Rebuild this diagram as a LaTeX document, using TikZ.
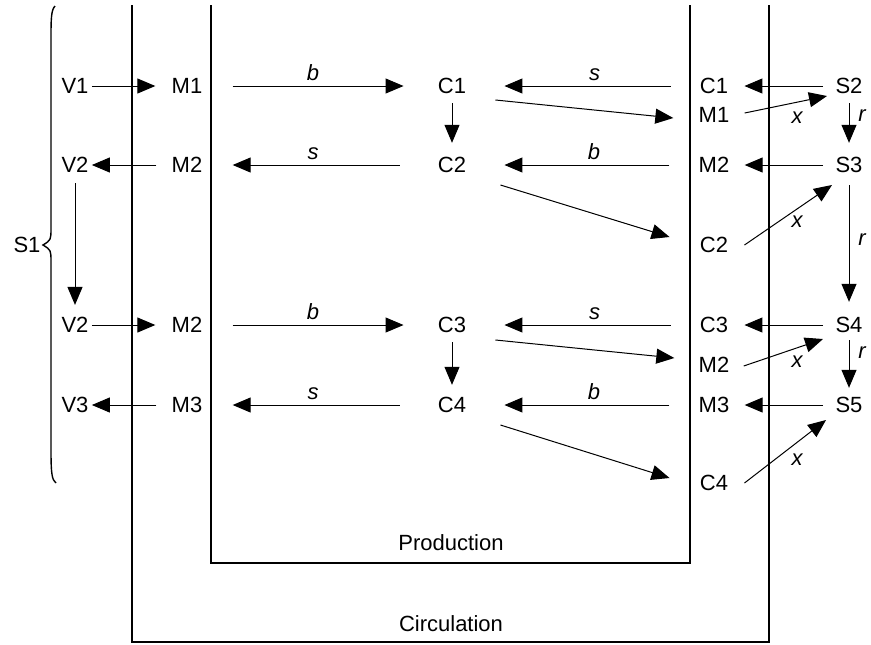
\documentclass[tikz,border=0pt]{standalone}
\usepackage{fontspec}
\setmainfont{Liberation Sans}
\usetikzlibrary{arrows.meta}

\begin{document}
\begin{tikzpicture}[x=0.5pt,y=-0.5pt,font=\fontsize{11}{13}\selectfont,
    every node/.style={inner sep=0pt},
    arr/.style={-{Triangle[length=9pt,width=7.5pt]},line width=0.5pt},
    lbl/.style={font=\fontsize{11}{13}\selectfont\itshape}]
    \useasboundingbox (0,0) rectangle (871,644);
    % the two boxes
    \draw[line width=1pt] (132,5) -- (132,642) -- (769,642) -- (769,5);
    \draw[line width=1pt] (211,5) -- (211,563) -- (690,563) -- (690,5);
    \node (prod) at (451,543) {Production};
    \node (circ) at (451,624) {Circulation};
    % left column
    \node (s1) at (27,245) {S1};
    \draw[line width=0.7pt] (55,6) .. controls (51,10) and (51,20) .. (51,40) -- (51,228)
        .. controls (51,240) .. (43,245) .. controls (51,250) .. (51,262) -- (51,450)
        .. controls (51,474) and (52,480) .. (56,483);
    \node (v1) at (75,86) {V1};
    \node (v2) at (75,165) {V2};
    \node (v2b) at (75,325) {V2};
    \node (v3) at (75,405) {V3};
    \node (ma1) at (187,86) {M1};
    \node (ma2) at (187,165) {M2};
    \node (ma3) at (187,325) {M2};
    \node (ma4) at (187,405) {M3};
    % production
    \node (c1) at (452,86) {C1};
    \node (c2) at (452,165) {C2};
    \node (c3) at (452,325) {C3};
    \node (c4) at (452,405) {C4};
    % right column
    \node (rc1) at (714,86) {C1};
    \node (rm1) at (714,115) {M1};
    \node (rm2) at (714,165) {M2};
    \node (rc2) at (714,245) {C2};
    \node (rc3) at (714,325) {C3};
    \node (rm3) at (714,365) {M2};
    \node (rm4) at (714,405) {M3};
    \node (rc4) at (714,483) {C4};
    \node (s2) at (849,86) {S2};
    \node (s3) at (849,165) {S3};
    \node (s4) at (849,325) {S4};
    \node (s5) at (849,405) {S5};
    % circulation arrows on the left
    \draw[arr,shorten <=1.5pt,shorten >=8pt] (v1) -- (ma1);
    \draw[arr,shorten <=7.5pt,shorten >=1.5pt] (ma2) -- (v2);
    \draw[arr,shorten <=5pt,shorten >=6pt] (v2) -- (v2b);
    \draw[arr,shorten <=1.5pt,shorten >=8pt] (v2b) -- (ma3);
    \draw[arr,shorten <=7.5pt,shorten >=1.5pt] (ma4) -- (v3);
    % production arrows
    \draw[arr,shorten <=15pt,shorten >=17pt] (ma1) -- node[lbl,pos=.47,above=2.5pt] {b} (c1);
    \draw[arr,shorten <=19pt,shorten >=15pt] (c2) -- node[lbl,pos=.53,above=2.5pt] {s} (ma2);
    \draw[arr,shorten <=15pt,shorten >=17pt] (ma3) -- node[lbl,pos=.47,above=2.5pt] {b} (c3);
    \draw[arr,shorten <=19pt,shorten >=15pt] (c4) -- node[lbl,pos=.53,above=2.5pt] {s} (ma4);
    \draw[arr,shorten <=4.5pt,shorten >=7pt] (c1) -- (c2);
    \draw[arr,shorten <=4.5pt,shorten >=6pt] (c3) -- (c4);
    \draw[arr,shorten <=14.5pt,shorten >=19pt] (rc1) -- node[lbl,pos=.45,above=2.5pt] {s} (c1);
    \draw[arr,shorten <=14.5pt,shorten >=19pt] (rm2) -- node[lbl,pos=.45,above=2.5pt] {b} (c2);
    \draw[arr,shorten <=14.5pt,shorten >=19pt] (rc3) -- node[lbl,pos=.45,above=2.5pt] {s} (c3);
    \draw[arr,shorten <=14.5pt,shorten >=19pt] (rm4) -- node[lbl,pos=.45,above=2.5pt] {b} (c4);
    \draw[arr] ([shift={(29,14)}]c1.east) -- ([shift={(-25,3)}]rm1.west);
    \draw[arr] ([shift={(34,20)}]c2.east) -- ([shift={(-30,-8)}]rc2.west);
    \draw[arr] ([shift={(29,15)}]c3.east) -- ([shift={(-24,-7)}]rm3.west);
    \draw[arr] ([shift={(34,20)}]c4.east) -- ([shift={(-30,-5)}]rc4.west);
    % circulation arrows on the right
    \draw[arr,shorten <=6pt,shorten >=8pt] (s2) -- (rc1);
    \draw[arr,shorten <=6pt,shorten >=7.5pt] (s3) -- (rm2);
    \draw[arr,shorten <=6pt,shorten >=8pt] (s4) -- (rc3);
    \draw[arr,shorten <=6pt,shorten >=7.5pt] (s5) -- (rm4);
    \draw[arr] ([shift={(15,-2)}]rm1.east) -- ([shift={(-22,10)}]s2.center);
    \draw[arr] ([shift={(16,0)}]rc2.east) -- ([shift={(-17,20)}]s3.center);
    \draw[arr] ([shift={(14,1)}]rm3.east) -- ([shift={(-26,14)}]s4.center);
    \draw[arr] ([shift={(16,0)}]rc4.east) -- ([shift={(-23,15)}]s5.center);
    \node[lbl] (x1) at (797,118) {x};
    \node[lbl] (x2) at (797,222) {x};
    \node[lbl] (x3) at (797,362) {x};
    \node[lbl] (x4) at (797,460) {x};
    \draw[arr,shorten <=4.5pt,shorten >=7pt] (s2) -- (s3);
    \draw[arr,shorten <=6pt,shorten >=7.5pt] (s3) -- (s4);
    \draw[arr,shorten <=3.5pt,shorten >=4.5pt] (s4) -- (s5);
    \node[lbl] (r1) at (862,116) {r};
    \node[lbl] (r2) at (862,240) {r};
    \node[lbl] (r3) at (862,353) {r};
\end{tikzpicture}
\end{document}
